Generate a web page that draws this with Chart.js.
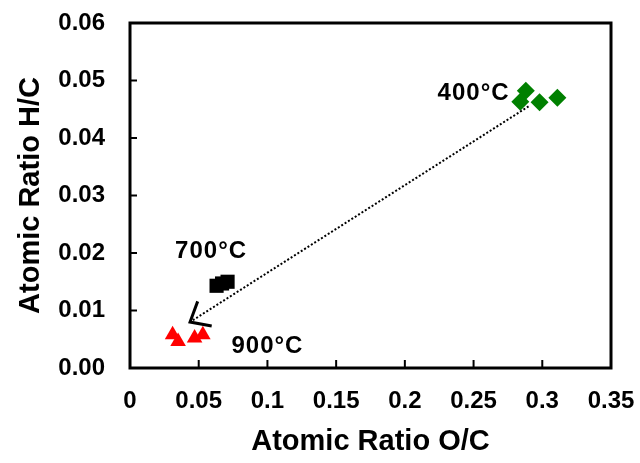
<!DOCTYPE html>
<html>
<head>
<meta charset="utf-8">
<script src="https://cdn.jsdelivr.net/npm/chart.js@4"></script>
<style>
  body { margin: 0; background: #fff; }
  #wrap { width: 640px; height: 463px; }
</style>
</head>
<body>
<div id="wrap"><canvas id="ratioChart"></canvas></div>
<script>
// values
let oc400 = [0.284, 0.288, 0.298, 0.311];
let hc400 = [0.0463, 0.0482, 0.0462, 0.0470];
let oc700 = [0.063, 0.067, 0.071];
let hc700 = [0.0143, 0.0147, 0.0150];
let oc900 = [0.031, 0.035, 0.047, 0.053];
let hc900 = [0.0058, 0.0046, 0.0052, 0.0058];
let tempLabels = ['400°C', '700°C', '900°C'];
let labelX = [0.250, 0.059, 0.100];
let labelY = [0.0478, 0.0203, 0.0038];
let arrowFrom = [0.290, 0.0455];
let arrowTo = [0.0437, 0.0080];

function toPoints(xs, ys) {
  return xs.map((x, i) => ({ x: x, y: ys[i] }));
}

// inward ticks, frame, dotted arrow and temperature labels
let extras = {
  id: 'extras',
  afterDraw(chart) {
    let ctx = chart.ctx;
    let xs = chart.scales.x, ys = chart.scales.y;
    let a = chart.chartArea;
    ctx.save();
    ctx.strokeStyle = '#000';
    ctx.lineWidth = 2;
    xs.ticks.forEach(t => {
      let px = xs.getPixelForValue(t.value);
      ctx.beginPath(); ctx.moveTo(px, a.bottom); ctx.lineTo(px, a.bottom - 8); ctx.stroke();
    });
    ys.ticks.forEach(t => {
      let py = ys.getPixelForValue(t.value);
      ctx.beginPath(); ctx.moveTo(a.left, py); ctx.lineTo(a.left + 7, py); ctx.stroke();
    });
    ctx.lineWidth = 3;
    ctx.strokeRect(a.left, a.top, a.right - a.left, a.bottom - a.top);

    // dotted arrow
    let x1 = xs.getPixelForValue(arrowFrom[0]), y1 = ys.getPixelForValue(arrowFrom[1]);
    let x2 = xs.getPixelForValue(arrowTo[0]), y2 = ys.getPixelForValue(arrowTo[1]);
    ctx.lineWidth = 2;
    ctx.setLineDash([2, 2]);
    ctx.beginPath(); ctx.moveTo(x1, y1); ctx.lineTo(x2, y2); ctx.stroke();
    ctx.setLineDash([]);
    let ang = Math.atan2(y1 - y2, x1 - x2);
    let len = 22;
    ctx.lineWidth = 3;
    ctx.beginPath();
    ctx.moveTo(x2 + len * Math.cos(ang - 0.65), y2 + len * Math.sin(ang - 0.65));
    ctx.lineTo(x2, y2);
    ctx.lineTo(x2 + len * Math.cos(ang + 0.75), y2 + len * Math.sin(ang + 0.75));
    ctx.stroke();

    ctx.fillStyle = '#000';
    ctx.font = 'bold 24px "Liberation Sans", Arial, sans-serif';
    ctx.letterSpacing = '1px';
    ctx.textAlign = 'center';
    ctx.textBaseline = 'middle';
    tempLabels.forEach((t, i) => {
      ctx.fillText(t, xs.getPixelForValue(labelX[i]), ys.getPixelForValue(labelY[i]));
    });
    ctx.restore();
  }
};

let tickFont = { family: '"Liberation Sans", Arial, sans-serif', size: 24, weight: 'bold' };
let titleFont = { family: '"Liberation Sans", Arial, sans-serif', size: 29, weight: 'bold' };

let ratioChart = new Chart(document.getElementById('ratioChart'), {
  type: 'scatter',
  data: {
    datasets: [
      {
        label: '400°C',
        data: toPoints(oc400, hc400),
        pointStyle: 'rectRot',
        pointRadius: 9,
        backgroundColor: '#008000',
        borderColor: '#008000',
        borderWidth: 0
      }, {
        label: '700°C',
        data: toPoints(oc700, hc700),
        pointStyle: 'rect',
        pointRadius: 10,
        backgroundColor: '#000000',
        borderColor: '#000000',
        borderWidth: 0
      }, {
        label: '900°C',
        data: toPoints(oc900, hc900),
        pointStyle: 'triangle',
        pointRadius: 9,
        backgroundColor: '#ff0000',
        borderColor: '#ff0000',
        borderWidth: 0
      }
    ]
  },
  options: {
    responsive: true,
    maintainAspectRatio: false,
    animation: false,
    layout: { padding: { top: 23, right: 29, left: 0, bottom: 0 } },
    plugins: {
      legend: { display: false },
      tooltip: { enabled: false }
    },
    scales: {
      x: {
        type: 'linear',
        min: 0,
        max: 0.35,
        ticks: {
          stepSize: 0.05,
          color: '#000',
          font: tickFont,
          padding: 11,
          callback: v => String(parseFloat(v.toFixed(2)))
        },
        grid: { display: false },
        border: { display: false },
        title: { display: true, text: 'Atomic Ratio O/C', color: '#000', font: titleFont, padding: { top: 13 } },
        afterFit(scale) {
          scale.height = 95;
          scale.paddingLeft = 0;
          scale.paddingRight = 0;
        }
      },
      y: {
        type: 'linear',
        min: 0,
        max: 0.06,
        ticks: {
          stepSize: 0.01,
          color: '#000',
          font: tickFont,
          padding: 17,
          callback: v => v.toFixed(2)
        },
        grid: { display: false },
        border: { display: false },
        title: { display: true, text: 'Atomic Ratio H/C', color: '#000', font: titleFont, padding: { top: 14, bottom: 0 } },
        afterFit(scale) {
          scale.width = 130;
          scale.paddingTop = 0;
          scale.paddingBottom = 0;
        }
      }
    }
  },
  plugins: [extras]
});
</script>
</body>
</html>
